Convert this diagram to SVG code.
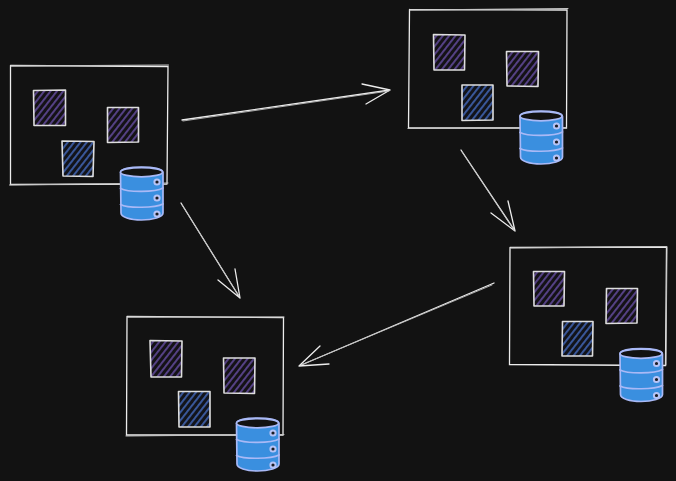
<svg xmlns="http://www.w3.org/2000/svg" width="676" height="481" viewBox="0 0 676 481">
<defs>
<style>
.frame{fill:none;stroke:#ececec;stroke-width:1.3;stroke-linecap:round}
.frame2{fill:none;stroke:#c4c4c4;stroke-width:1;stroke-linecap:round}
.sq{stroke:none}
.sqe{fill:none;stroke:#dedede;stroke-width:1.6;stroke-linecap:round;stroke-linejoin:round}
.arr{fill:none;stroke:#ececec;stroke-width:1.3;stroke-linecap:round;stroke-linejoin:round}
.arr2{fill:none;stroke:#bcbcbc;stroke-width:.9;stroke-linecap:round}
.dbb{fill:#3a8fdf;stroke:#a9b9f6;stroke-width:1.7;stroke-linejoin:round}
.dbl{fill:none;stroke:#a9b9f6;stroke-width:1.7;stroke-linecap:round}
.dbt{fill:#121212;stroke:#a9b9f6;stroke-width:1.7}
.dbd{fill:#1c1c22;stroke:#b7c4f6;stroke-width:2}
</style>
<pattern id="hp" width="5" height="5" patternUnits="userSpaceOnUse" patternTransform="rotate(38)">
<rect width="5" height="5" fill="#141216"/>
<rect width="1.900" height="5" fill="#574389"/>
</pattern>
<pattern id="hb" width="5" height="5" patternUnits="userSpaceOnUse" patternTransform="rotate(38)">
<rect width="5" height="5" fill="#12141a"/>
<rect width="1.900" height="5" fill="#3b5a9f"/>
</pattern>
<g id="db">
<path class="dbb" d="M0.500 5.500L1 46C1 50 10 53 21.500 53C33 53 43 50 43 46V5.500C43 1.500 33 0 21.500 0C10 0 0.500 1.500 0.500 5.500Z"/>
<ellipse class="dbt" cx="21.500" cy="5.200" rx="21" ry="4.600"/>
<path class="dbl" d="M0.500 21.500C8 25.500 35 25.500 43 21"/>
<path class="dbl" d="M0.500 37.500C8 41.500 35 41 43 37"/>
<circle class="dbd" cx="37" cy="15" r="2.600"/>
<circle class="dbd" cx="37" cy="31" r="2.600"/>
<circle class="dbd" cx="37" cy="47" r="2.600"/>
</g>
</defs>
<rect width="676" height="481" fill="#121212"/>
<g id="connectors">
<path class="arr" d="M182 120L390 90M362 84L390 90L366 104"/>
<path class="arr2" d="M183 121L389 91"/>
<path class="arr" d="M461 150L515 231M491 213L515 231L508 201"/>
<path class="arr2" d="M462 152L514 230"/>
<path class="arr" d="M494 283L299 366M320 346L299 366L329 364"/>
<path class="arr2" d="M492 285L301 365"/>
<path class="arr" d="M181 203L240 298M218 280L240 298L235 269"/>
<path class="arr2" d="M182 205L239 296"/>
</g>
<g id="cluster-left">
<path class="frame" d="M10.500 65.500L168 66.500L167 184M167 184L10.500 184.500L10.500 65.500"/>
<path class="frame2" d="M11 66L168.500 65M9.500 185L168 183"/>
<g id="l-a"><rect class="sq" x="34" y="91" width="31" height="34" fill="url(#hp)"/><path class="sqe" d="M33.500 90.500L65.500 90L65.500 125.500L34 125.500Z"/></g>
<g id="l-b"><rect class="sq" x="108" y="108" width="30" height="34" fill="url(#hp)"/><path class="sqe" d="M107.500 107.500L138.500 107.500L138.500 142L107.500 142.500Z"/></g>
<g id="l-c"><rect class="sq" x="62" y="141" width="31" height="35" fill="url(#hb)"/><path class="sqe" d="M62 141L94 141.500L93 176.500L63 176Z"/></g>
<g id="l-db"><use href="#db" x="120" y="167"/></g>
</g>
<g id="cluster-top">
<path class="frame" d="M409.500 9.500L567 10L566.500 128L408.500 128L409.500 9.500"/>
<path class="frame2" d="M410 10L568 8.500M408 128.500L566 127.500"/>
<g id="t-a"><rect class="sq" x="434" y="35" width="30" height="35" fill="url(#hp)"/><path class="sqe" d="M433.500 34.500L465 35L464.500 70L434 70Z"/></g>
<g id="t-b"><rect class="sq" x="507" y="52" width="31" height="34" fill="url(#hp)"/><path class="sqe" d="M506.500 51.500L538.500 51.500L538 86.500L507 86Z"/></g>
<g id="t-c"><rect class="sq" x="462" y="85" width="31" height="35" fill="url(#hb)"/><path class="sqe" d="M462 85L493 85L493 120L462 120.500Z"/></g>
<g id="t-db"><use href="#db" x="519.500" y="111"/></g>
</g>
<g id="cluster-right">
<path class="frame" d="M510 247.500L666.500 247L665.500 365.500L509.500 364.500L510 247.500"/>
<path class="frame2" d="M511 248L667 246.500L666 365"/>
<g id="r-a"><rect class="sq" x="534" y="272" width="30" height="34" fill="url(#hp)"/><path class="sqe" d="M533.500 271.500L564.500 271.500L564 306L534 306Z"/></g>
<g id="r-b"><rect class="sq" x="607" y="289" width="30" height="34" fill="url(#hp)"/><path class="sqe" d="M606.500 288.500L637.500 288.500L637 323L606 323.500Z"/></g>
<g id="r-c"><rect class="sq" x="562" y="322" width="31" height="34" fill="url(#hb)"/><path class="sqe" d="M562.500 321.500L593 321.500L592.500 356L562 356Z"/></g>
<g id="r-db"><use href="#db" x="619.500" y="348.500"/></g>
</g>
<g id="cluster-bottom">
<path class="frame" d="M127 316.500L283.500 317.500L283 435L126.500 435L127 316.500"/>
<path class="frame2" d="M128 317L284 317M126 436L284 434.500"/>
<g id="b-a"><rect class="sq" x="151" y="341" width="31" height="36" fill="url(#hp)"/><path class="sqe" d="M150 340.500L182 341L181.500 377L151 377Z"/></g>
<g id="b-b"><rect class="sq" x="224" y="358" width="31" height="35" fill="url(#hp)"/><path class="sqe" d="M223.500 358L255 358L254.500 393.500L224 393Z"/></g>
<g id="b-c"><rect class="sq" x="179" y="392" width="31" height="35" fill="url(#hb)"/><path class="sqe" d="M178.500 391.500L210 391.500L210 427L179 427Z"/></g>
<g id="b-db"><use href="#db" x="236" y="418"/></g>
</g>
</svg>
